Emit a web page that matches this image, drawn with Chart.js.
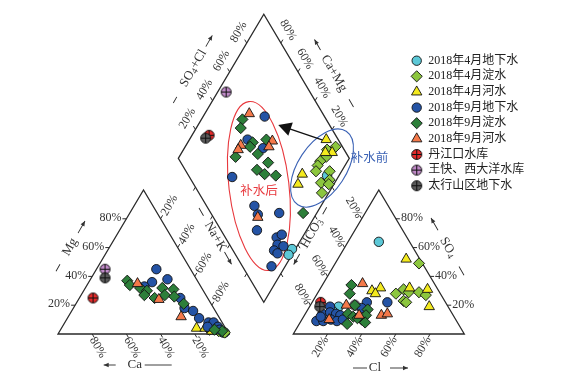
<!DOCTYPE html>
<html>
<head>
<meta charset="utf-8">
<script src="https://cdn.jsdelivr.net/npm/chart.js@4/dist/chart.umd.min.js"></script>
<style>
html, body { margin: 0; padding: 0; background: #fff; }
canvas { display: block; }
</style>
</head>
<body>
<canvas id="piper" width="572" height="380"></canvas>
<script>
// 图例名称
const seriesNames = ["2018年4月地下水", "2018年4月淀水", "2018年4月河水", "2018年9月地下水", "2018年9月淀水",
  "2018年9月河水", "丹江口水库", "王快、西大洋水库", "太行山区地下水"];
const tickValues = [20, 40, 60, 80];

// 阳离子三角：[Ca%, Mg%]，Na+K = 100 - Ca - Mg
const gw04Cat = [[3, 1], [4, 2], [2, 1]];
const dian04Cat = [[2, 1], [10, 3], [5, 2]];
const he04Cat = [[17, 4], [12, 4], [9, 2]];
const gw09Cat = [[20, 45], [27, 36], [17, 38], [33, 33], [16, 25], [17, 18], [13, 16], [12, 11], [8, 8], [5, 8], [4, 5], [10, 5], [4, 3]];
const dian09Cat = [[41, 37], [41, 34], [36, 32], [33, 30], [36, 27], [23, 32], [24, 27], [17, 31], [19, 26], [31, 25], [16, 21], [3, 2], [7, 3]];
const he09Cat = [[36, 35], [29, 24], [22, 12]];
const djkCat = [[67, 25]];
const wkCat = [[50, 45]];
const thsCat = [[53, 39]];

// 阴离子三角：[Cl%, SO4%]，HCO3 = 100 - Cl - SO4
const gw04Ani = [[18, 64], [17, 19], [15, 16]];
const dian04Ani = [[49, 49], [46, 28], [49, 31], [53, 29], [59, 29], [64, 27], [53, 23], [55, 22]];
const he04Ani = [[40, 52], [35, 32], [31, 30], [34, 28], [52, 32], [63, 31], [70, 19]];
const gw09Ani = [[44, 22], [32, 22], [31, 18], [12, 19], [10, 14], [14, 15], [18, 14], [21, 13], [9, 9], [13, 9], [17, 10], [21, 9], [10, 12], [24, 10]];
const dian09Ani = [[17, 34], [19, 28], [26, 20], [35, 17], [25, 14], [29, 12], [35, 10], [28, 7], [36, 13], [38, 8], [32, 11]];
const he09Ani = [[23, 35], [21, 20], [16, 10], [32, 13], [45, 13], [48, 14]];
const djkAni = [[5, 22]];
const wkAni = [[26, 20]];
const thsAni = [[6, 19]];

// 菱形：[Na+K%, SO4+Cl%]
const gw04Dia = [[93, 81], [98, 35], [98, 31]];
const dian04Dia = [[88, 96], [84, 90], [86, 87], [84, 82], [84, 79], [85, 76], [93, 84], [96, 81], [92, 75], [97, 79], [96, 72]];
const he04Dia = [[80, 93], [88, 92], [84, 88], [78, 67], [79, 61]];
const gw09Dia = [[36, 65], [34, 47], [46, 53], [38, 25], [61, 28], [78, 40], [66, 27], [71, 21], [85, 30], [87, 34], [88, 28], [92, 31], [88, 24], [91, 25], [92, 17]];
const dian09Dia = [[24, 51], [26, 47], [38, 49], [38, 46], [33, 34], [45, 58], [45, 48], [54, 51], [50, 42], [56, 45], [63, 51], [92, 54]];
const he09Dia = [[26, 57], [32, 41], [32, 38], [49, 61], [49, 57], [67, 26]];
const djkDia = [[10, 26]];
const wkDia = [[5, 51]];
const thsDia = [[9, 23]];

const catSets = [gw04Cat, dian04Cat, he04Cat, gw09Cat, dian09Cat, he09Cat, djkCat, wkCat, thsCat];
const aniSets = [gw04Ani, dian04Ani, he04Ani, gw09Ani, dian09Ani, he09Ani, djkAni, wkAni, thsAni];
const diaSets = [gw04Dia, dian04Dia, he04Dia, gw09Dia, dian09Dia, he09Dia, djkDia, wkDia, thsDia];

// Piper 几何（三角边长 100）
const H = 86.6;
const RX = 137.6;               // 阴离子三角左下角
const DX = 70.35, DY = 105.65;  // 菱形左顶点
const cat = (ca, mg) => ({ x: 100 - ca - mg / 2, y: mg * H / 100 });
const ani = (cl, so4) => ({ x: RX + cl + so4 / 2, y: so4 * H / 100 });
const dia = (nak, sc) => ({ x: DX + (sc + nak) / 2, y: DY + (sc - nak) * H / 100 });

function crossMark(fill) {
  const c = document.createElement("canvas");
  c.width = c.height = 13;
  const g = c.getContext("2d");
  g.beginPath();
  g.arc(6.5, 6.5, 5, 0, 2 * Math.PI);
  g.fillStyle = fill;
  g.fill();
  g.lineWidth = 1;
  g.strokeStyle = "#111";
  g.stroke();
  g.beginPath();
  g.moveTo(1.5, 6.5); g.lineTo(11.5, 6.5);
  g.moveTo(6.5, 1.5); g.lineTo(6.5, 11.5);
  g.stroke();
  return c;
}

const markers = [
  { style: "circle", color: "#5cc8d7", r: 4.7 },
  { style: "rectRot", color: "#8cc63e", r: 5.6 },
  { style: "triangle", color: "#f4ea1e", r: 6 },
  { style: "circle", color: "#2453a5", r: 4.7 },
  { style: "rectRot", color: "#2d7f3a", r: 5.6 },
  { style: "triangle", color: "#f4794a", r: 6 },
  { style: crossMark("#e52a2a"), color: "#e52a2a", r: 5 },
  { style: crossMark("#c08ac8"), color: "#c08ac8", r: 5 },
  { style: crossMark("#5a5a5a"), color: "#5a5a5a", r: 5 },
];

const datasets = seriesNames.map((name, i) => ({
  label: name,
  data: [
    ...catSets[i].map(([ca, mg]) => cat(ca, mg)),
    ...aniSets[i].map(([cl, so4]) => ani(cl, so4)),
    ...diaSets[i].map(([nak, sc]) => dia(nak, sc)),
  ],
  pointStyle: markers[i].style,
  pointRadius: markers[i].r,
  backgroundColor: markers[i].color,
  borderColor: "#111",
  borderWidth: 0.9,
  order: i === 7 ? 100 : 9 - i,
}));

const FONT = '12px "Liberation Serif", serif';
const SUB = '9px "Liberation Serif", serif';
const TITLE = '13px "Liberation Serif", serif';
const S = Math.sqrt(3) / 2;

// 刻度轴
const axes = [
  { at: k => cat(k, 0), dir: [0.5, S], off: [5.5, 13.5], rot: 60 },
  { at: k => cat(100 - k, k), dir: [-1, 0], off: [-5, -1], rot: 0, align: "right" },
  { at: k => cat(0, 100 - k), dir: [0.5, -S], off: [9, -13.5], rot: -60 },
  { at: k => ani(k, 0), dir: [-0.5, S], off: [-7, 13], rot: -60 },
  { at: k => ani(100 - k, k), dir: [1, 0], off: [5, -0.5], rot: 0, align: "left" },
  { at: k => ani(0, 100 - k), dir: [-0.5, -S], off: [-8, -11], rot: 60 },
  { at: k => dia(0, k), dir: [-0.5, -S], off: [-8, -11], rot: -60 },
  { at: k => dia(100 - k, 100), dir: [0.5, -S], off: [7, -13], rot: 60 },
  { at: k => dia(k, 0), dir: [-0.5, S] },
  { at: k => dia(100, k), dir: [0.5, S] },
];

const titles = [
  { parts: [["Ca"]], at: [134.7, 365], rot: 0, dash: [10, 37], arrow: [-19, -31] },
  { parts: [["Mg"]], at: [70, 247], rot: -60, dash: [-28, -20], arrow: [16, 30] },
  { parts: [["Na+K"]], at: [215.5, 236.5], rot: 60, dash: [-33, -24], arrow: [18, 32] },
  { parts: [["Cl"]], at: [375, 368], rot: 0, dash: [-22, -8], arrow: [15, 33] },
  { parts: [["SO"], ["4", 1]], at: [448, 247.5], rot: 60, dash: [22, 32], arrow: [-20, -34] },
  { parts: [["HCO"], ["3", 1]], at: [311.7, 233.3], rot: -60, dash: [22, 30], arrow: [-24, -36] },
  { parts: [["SO"], ["4", 1], ["+Cl"]], at: [193.3, 68.3], rot: -60, dash: [-40, -33], arrow: [25, 38] },
  { parts: [["Ca+Mg"]], at: [334, 73.3], rot: 60, dash: [30, 39], arrow: [-27, -39] },
];

function rotText(g, parts, x, y, deg, align, font) {
  g.save();
  g.translate(x, y);
  g.rotate(deg * Math.PI / 180);
  let w = 0;
  for (const [t, sub] of parts) { g.font = sub ? SUB : font; w += g.measureText(t).width; }
  let cx = align === "left" ? 0 : align === "right" ? -w : -w / 2;
  g.textAlign = "left";
  g.textBaseline = "middle";
  for (const [t, sub] of parts) {
    g.font = sub ? SUB : font;
    g.fillText(t, cx, sub ? 3 : 0);
    cx += g.measureText(t).width;
  }
  g.restore();
}

function arrowHead(g, x1, y1, x2, y2, len, half) {
  const dx = x2 - x1, dy = y2 - y1, d = Math.hypot(dx, dy);
  const ux = dx / d, uy = dy / d;
  const bx = x2 - ux * len, by = y2 - uy * len;
  g.beginPath();
  g.moveTo(x2, y2);
  g.lineTo(bx - uy * half, by + ux * half);
  g.lineTo(bx + uy * half, by - ux * half);
  g.closePath();
  g.fill();
}

const framePlugin = {
  id: "frame",
  beforeDatasetsDraw(chart) {
    const g = chart.ctx, xs = chart.scales.x, ys = chart.scales.y;
    const P = p => [xs.getPixelForValue(p.x), ys.getPixelForValue(p.y)];
    g.save();
    g.strokeStyle = "#2a2a2a";
    g.fillStyle = "#333";
    g.lineWidth = 1.3;
    const poly = pts => {
      g.beginPath();
      pts.map(P).forEach(([x, y], i) => (i ? g.lineTo(x, y) : g.moveTo(x, y)));
      g.closePath();
      g.stroke();
    };
    poly([cat(100, 0), cat(0, 0), cat(0, 100)]);
    poly([ani(0, 0), ani(100, 0), ani(0, 100)]);
    poly([dia(0, 0), dia(0, 100), dia(100, 100), dia(100, 0)]);

    g.lineWidth = 1;
    for (const ax of axes) {
      for (const k of tickValues) {
        const [x, y] = P(ax.at(k));
        g.beginPath();
        g.moveTo(x, y);
        g.lineTo(x + ax.dir[0] * 4, y + ax.dir[1] * 4);
        g.stroke();
        if (ax.off) rotText(g, [[k + "%"]], x + ax.off[0], y + ax.off[1], ax.rot, ax.align || "center", FONT);
      }
    }

    for (const t of titles) {
      rotText(g, t.parts, t.at[0], t.at[1], t.rot, "center", TITLE);
      g.save();
      g.translate(t.at[0], t.at[1]);
      g.rotate(t.rot * Math.PI / 180);
      g.lineWidth = 0.9;
      g.beginPath();
      g.moveTo(t.dash[0], 0); g.lineTo(t.dash[1], 0);
      g.moveTo(t.arrow[0], 0); g.lineTo(t.arrow[1], 0);
      g.stroke();
      arrowHead(g, t.arrow[0], 0, t.arrow[1], 0, 5, 2.2);
      g.restore();
    }

    // 补水前后标注
    const [rx, ry] = P({ x: 117.5, y: 89.0 });
    g.strokeStyle = "#e8383d";
    g.lineWidth = 1.1;
    g.beginPath();
    g.ellipse(rx, ry, 30, 85, -0.119, 0, 2 * Math.PI);
    g.stroke();
    const [bx, by] = P({ x: 154.4, y: 99.8 });
    g.strokeStyle = "#3b62b5";
    g.beginPath();
    g.ellipse(bx, by, 44, 24, -0.988, 0, 2 * Math.PI);
    g.stroke();

    const [tx, ty] = P({ x: 157.9, y: 115.5 });
    const [hx, hy] = P({ x: 128.8, y: 125.7 });
    g.strokeStyle = "#111";
    g.fillStyle = "#111";
    g.lineWidth = 1.4;
    g.beginPath();
    g.moveTo(tx, ty);
    g.lineTo(hx + (tx - hx) * 0.2, hy + (ty - hy) * 0.2);
    g.stroke();
    arrowHead(g, tx, ty, hx, hy, 13, 7);

    g.font = '12.5px "Noto Sans CJK SC", sans-serif';
    g.textAlign = "center";
    g.textBaseline = "middle";
    g.fillStyle = "#e8383d";
    g.fillText("补水后", ...P({ x: 117.5, y: 86.6 }));
    g.fillStyle = "#3b62b5";
    g.fillText("补水前", ...P({ x: 182.2, y: 106.4 }));
    g.restore();
  },
};

function drawMarker(g, m, x, y) {
  if (typeof m.style !== "string") {
    g.drawImage(m.style, x - m.style.width / 2, y - m.style.height / 2);
    return;
  }
  g.beginPath();
  if (m.style === "circle") {
    g.arc(x, y, m.r, 0, 2 * Math.PI);
  } else if (m.style === "rectRot") {
    g.moveTo(x - m.r, y); g.lineTo(x, y - m.r); g.lineTo(x + m.r, y); g.lineTo(x, y + m.r);
  } else {
    for (let j = 0; j < 3; j++) {
      const a = j * 2 * Math.PI / 3;
      const px = x + Math.sin(a) * m.r, py = y - Math.cos(a) * m.r;
      j ? g.lineTo(px, py) : g.moveTo(px, py);
    }
  }
  g.closePath();
  g.fillStyle = m.color;
  g.fill();
  g.lineWidth = 0.9;
  g.strokeStyle = "#111";
  g.stroke();
}

const legendPlugin = {
  id: "sideLegend",
  afterDraw(chart) {
    const g = chart.ctx;
    g.save();
    g.font = '12px "Liberation Serif", "Noto Sans CJK SC", serif';
    g.textAlign = "left";
    g.textBaseline = "middle";
    chart.data.datasets.forEach((ds, i) => {
      const y = 60.7 + i * 15.63;
      drawMarker(g, markers[i], 416.7, y);
      g.fillStyle = "#222";
      g.fillText(ds.label, 428.3, y);
    });
    g.restore();
  },
};

new Chart(document.getElementById("piper").getContext("2d"), {
  type: "scatter",
  data: { datasets },
  options: {
    responsive: false,
    animation: false,
    devicePixelRatio: 1,
    events: [],
    layout: { padding: 0, autoPadding: false },
    scales: {
      x: { type: "linear", min: -33.92, max: 300.58, display: false },
      y: { type: "linear", min: -27.66, max: 200.84, display: false },
    },
    plugins: { legend: { display: false }, tooltip: { enabled: false } },
  },
  plugins: [framePlugin, legendPlugin],
});
</script>
</body>
</html>
